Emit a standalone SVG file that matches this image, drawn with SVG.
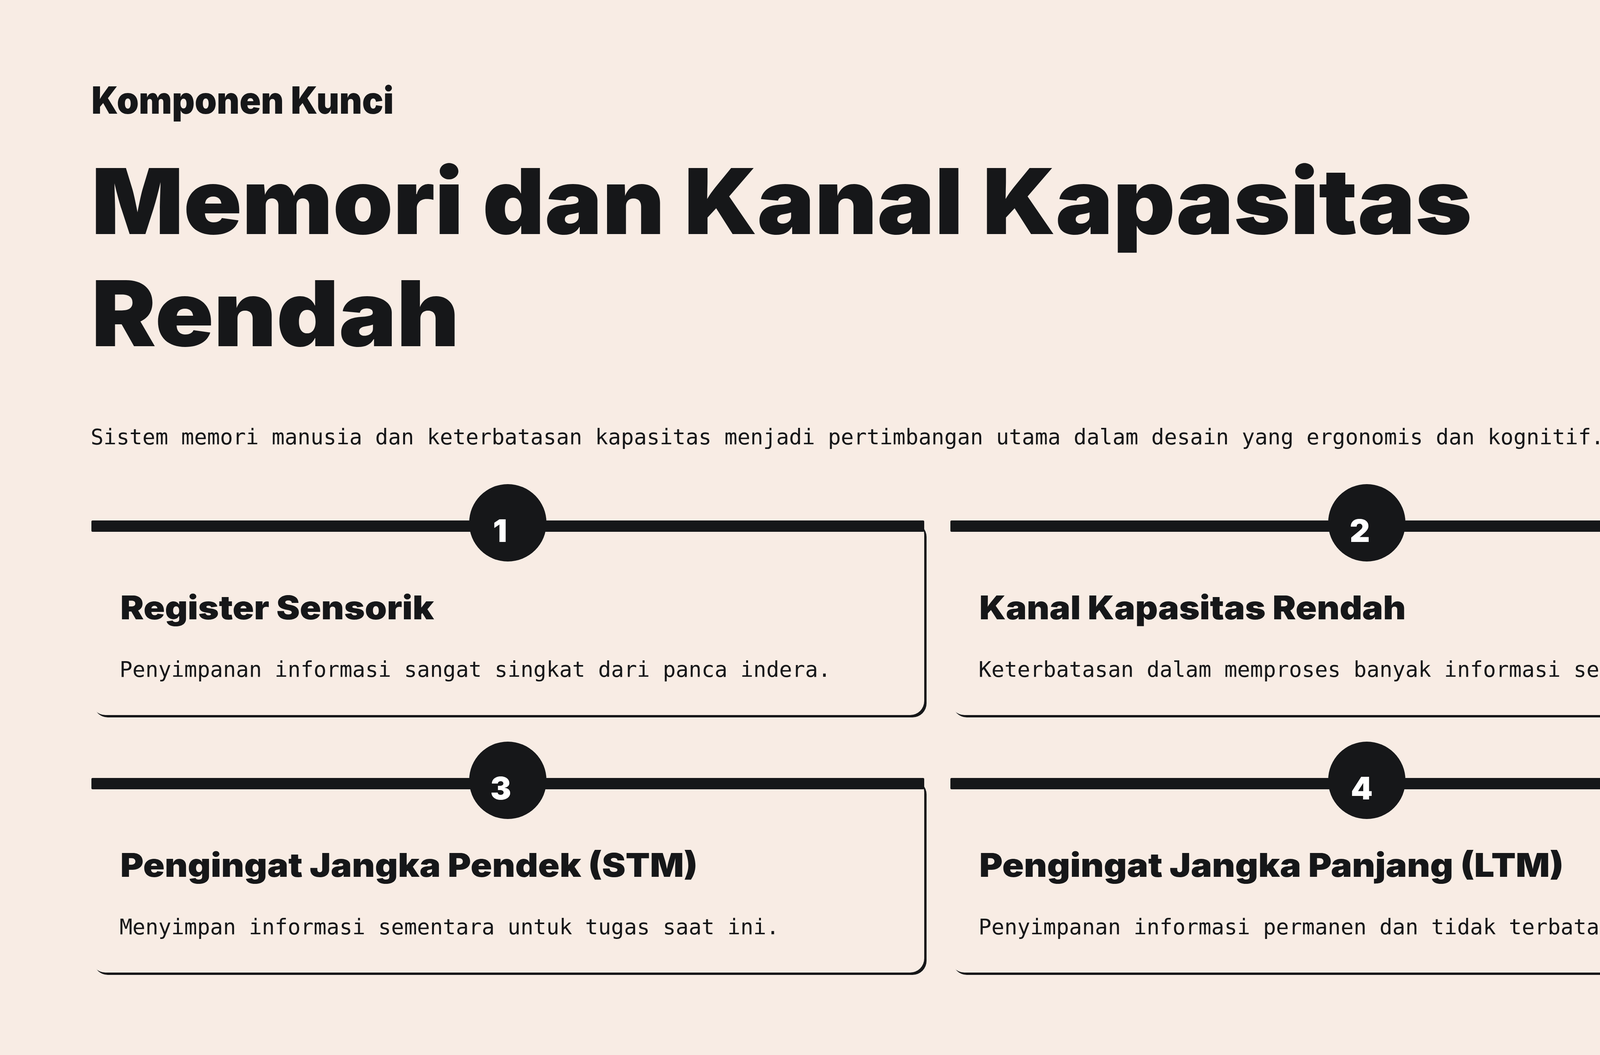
<svg xmlns="http://www.w3.org/2000/svg" width="4800" height="2700" viewBox="0 0 4800 2700">
<style>
.bg{fill:#F8ECE4}
.dk{fill:#161719}
.eyebrow{font-family:Inter,"Liberation Sans",sans-serif;font-weight:900;font-size:96px;fill:#161719}
.title{font-family:Inter,"Liberation Sans",sans-serif;font-weight:900;font-size:232px;fill:#161719}
.mono{font-family:"DejaVu Sans Mono","Liberation Mono",monospace;font-size:55px;fill:#161719}
.ct{font-family:Inter,"Liberation Sans",sans-serif;font-weight:900;font-size:84px;fill:#161719}
.num{font-family:Inter,"Liberation Sans",sans-serif;font-weight:900;font-size:80px;fill:#FFFFFF;text-anchor:middle}
</style>
<rect class="bg" x="0" y="0" width="4800" height="2700"/>
<g id="header">
<text class="eyebrow" x="234" y="291" textLength="774" lengthAdjust="spacingAndGlyphs">Komponen Kunci</text>
<text class="title" x="234" y="599" textLength="3534" lengthAdjust="spacingAndGlyphs">Memori dan Kanal Kapasitas</text>
<text class="title" x="234" y="886" textLength="942" lengthAdjust="spacingAndGlyphs">Rendah</text>
<text class="mono" x="232" y="1137">Sistem memori manusia dan keterbatasan kapasitas menjadi pertimbangan utama dalam desain yang ergonomis dan kognitif.</text>
</g>
<g id="connectors"></g>
<g id="card1">
<rect class="dk" x="240" y="1338" width="2132" height="498" rx="36"/>
<rect class="bg" x="234" y="1332" width="2132" height="498" rx="36"/>
<rect class="dk" x="234" y="1332" width="2132" height="29" rx="3"/>
<circle class="dk" cx="1300" cy="1338" r="99"/>
<text class="num" x="1280" y="1387">1</text>
<text class="ct" x="308" y="1585" textLength="803" lengthAdjust="spacingAndGlyphs">Register Sensorik</text>
<text class="mono" x="306" y="1732">Penyimpanan informasi sangat singkat dari panca indera.</text>
</g>
<g id="card2">
<rect class="dk" x="2439" y="1338" width="2132" height="498" rx="36"/>
<rect class="bg" x="2433" y="1332" width="2132" height="498" rx="36"/>
<rect class="dk" x="2433" y="1332" width="2132" height="29" rx="3"/>
<circle class="dk" cx="3499" cy="1338" r="99"/>
<text class="num" x="3481" y="1387">2</text>
<text class="ct" x="2507" y="1585" textLength="1092" lengthAdjust="spacingAndGlyphs">Kanal Kapasitas Rendah</text>
<text class="mono" x="2505" y="1732">Keterbatasan dalam memproses banyak informasi sekaligus.</text>
</g>
<g id="card3">
<rect class="dk" x="240" y="1997" width="2132" height="498" rx="36"/>
<rect class="bg" x="234" y="1991" width="2132" height="498" rx="36"/>
<rect class="dk" x="234" y="1991" width="2132" height="29" rx="3"/>
<circle class="dk" cx="1300" cy="1997" r="99"/>
<text class="num" x="1282" y="2046">3</text>
<text class="ct" x="308" y="2244" textLength="1478" lengthAdjust="spacingAndGlyphs">Pengingat Jangka Pendek (STM)</text>
<text class="mono" x="306" y="2391">Menyimpan informasi sementara untuk tugas saat ini.</text>
</g>
<g id="card4">
<rect class="dk" x="2439" y="1997" width="2132" height="498" rx="36"/>
<rect class="bg" x="2433" y="1991" width="2132" height="498" rx="36"/>
<rect class="dk" x="2433" y="1991" width="2132" height="29" rx="3"/>
<circle class="dk" cx="3499" cy="1997" r="99"/>
<text class="num" x="3486" y="2046">4</text>
<text class="ct" x="2507" y="2244" textLength="1496" lengthAdjust="spacingAndGlyphs">Pengingat Jangka Panjang (LTM)</text>
<text class="mono" x="2505" y="2391">Penyimpanan informasi permanen dan tidak terbatas.</text>
</g>
</svg>
